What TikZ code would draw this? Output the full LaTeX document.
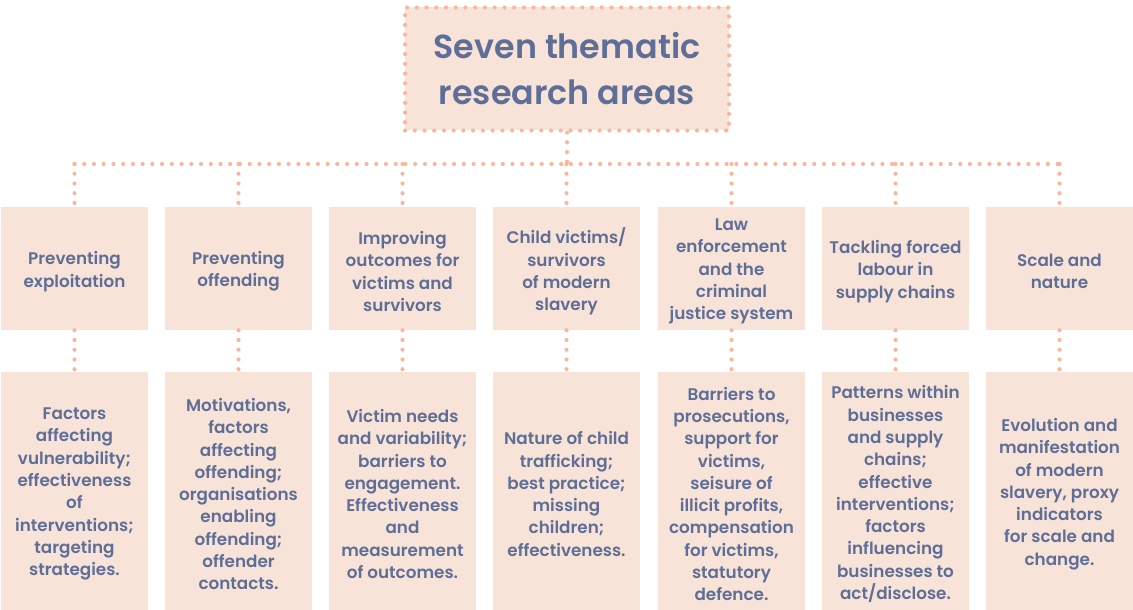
\documentclass[tikz,border=0pt]{standalone}
\usepackage{fontspec}
\setmainfont{Poppins}[BoldFont={Poppins SemiBold}]
\definecolor{boxfill}{HTML}{F7E3D8}
\definecolor{txt}{HTML}{5F6E97}
\definecolor{dotc}{HTML}{FBB599}
\tikzset{
  dots/.style={draw=dotc, line width=3.1pt, line cap=round, dash pattern=on 0pt off 7.3pt},
  colbox/.style={fill=boxfill, draw=none, minimum width=110.25pt, inner sep=0pt},
  topbox/.style={colbox, minimum height=92.25pt},
  botbox/.style={colbox, minimum height=178.5pt},
  lbl/.style={inner sep=0pt, align=center, text=txt, font=\fontsize{12.6}{16.7}\selectfont\bfseries},
  titlebox/.style={fill=boxfill, draw=dotc, line width=3.1pt, line cap=round, dash pattern=on 0pt off 7.3pt, minimum width=243pt, minimum height=92.25pt, inner sep=0pt, align=center, text=txt, font=\fontsize{25}{34.5}\selectfont\bfseries}
}
\newcommand{\colnode}[5]{%
  \node[#1] (#2) at (#3) {};
  \node[lbl] (#2l) at ([yshift=-2.3pt]#2.center) {#4#5};
}
\begin{document}
\begin{tikzpicture}[x=0.75pt,y=-0.75pt]
\useasboundingbox (0,0) rectangle (1133,610);
\node[titlebox] (title) at (567,69) {Seven thematic\\research areas};
\coordinate (bus) at (567,164);
\colnode{topbox}{t1}{74.5,268.5}{Preventing\\exploitation}{}
\colnode{topbox}{t2}{238.5,268.5}{Preventing\\offending}{}
\colnode{topbox}{t3}{402.5,268.5}{Improving\\outcomes for\\victims and\\survivors}{}
\colnode{topbox}{t4}{566.5,268.5}{Child victims/\\survivors\\of modern\\slavery}{}
\colnode{topbox}{t5}{731.5,268.5}{Law\\enforcement\\and the\\criminal\\justice system}{}
\colnode{topbox}{t6}{895.5,268.5}{Tackling forced\\labour in\\supply chains}{}
\colnode{topbox}{t7}{1059.5,268.5}{Scale and\\nature}{}
\colnode{botbox}{b1}{74.5,491}{Factors\\affecting\\vulnerability;\\effectiveness\\of\\interventions;\\targeting\\strategies.}{}
\colnode{botbox}{b2}{238.5,491}{Motivations,\\factors\\affecting\\offending;\\organisations\\enabling\\offending;\\offender\\contacts.}{}
\colnode{botbox}{b3}{402.5,491}{Victim needs\\and variability;\\barriers to\\engagement.\\Effectiveness\\and\\measurement\\of outcomes.}{}
\colnode{botbox}{b4}{566.5,491}{Nature of child\\trafficking;\\best practice;\\missing\\children;\\effectiveness.}{}
\colnode{botbox}{b5}{731.5,491}{Barriers to\\prosecutions,\\support for\\victims,\\seisure of\\illicit profits,\\compensation\\for victims,\\statutory\\defence.}{}
\colnode{botbox}{b6}{895.5,491}{Patterns within\\businesses\\and supply\\chains;\\effective\\interventions;\\factors\\influencing\\businesses to\\act/disclose.}{}
\colnode{botbox}{b7}{1059.5,491}{Evolution and\\manifestation\\of modern\\slavery, proxy\\indicators\\for scale and\\change.}{}
\draw[dots] (title.south) -- (bus);
\draw[dots] (t1.north |- bus) -- (t7.north |- bus);
\foreach \i in {1,...,7} {
  \draw[dots] (t\i.north |- bus) -- (t\i.north);
  \draw[dots] (t\i.south) -- (b\i.north);
}
\end{tikzpicture}
\end{document}
